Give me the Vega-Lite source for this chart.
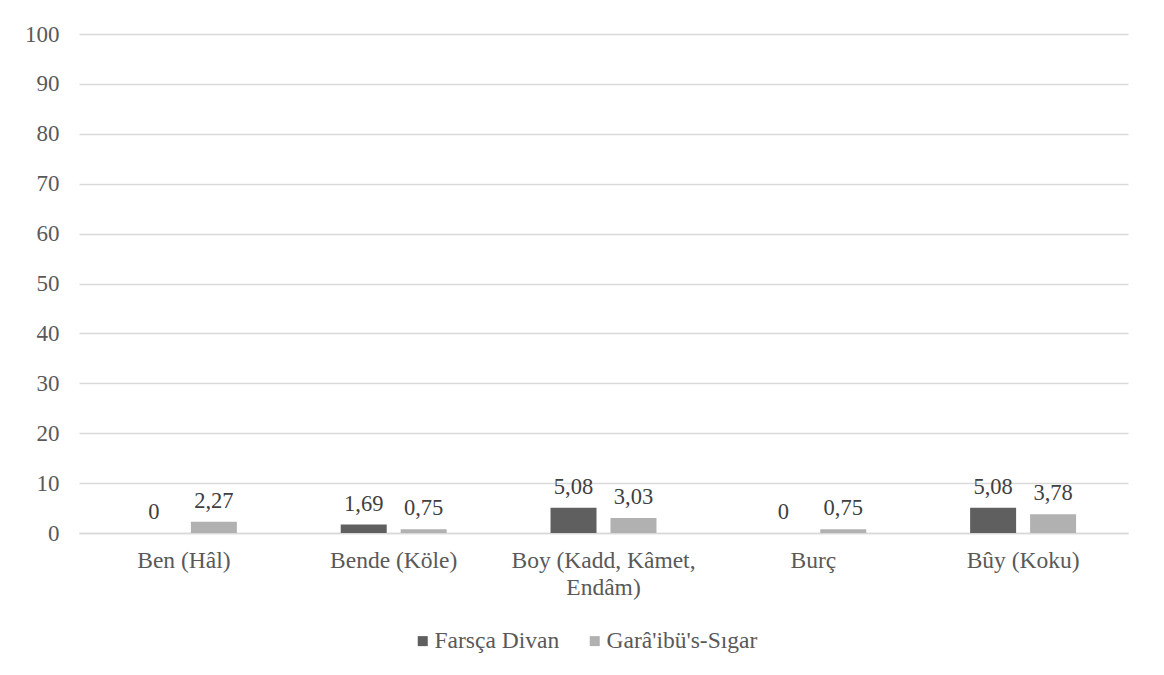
{
  "$schema": "https://vega.github.io/schema/vega-lite/v6.json",
  "autosize": {"type": "none"},
  "width": 1049,
  "height": 499,
  "padding": {"left": 79, "top": 34, "right": 36, "bottom": 142},
  "background": "white",
  "data": {
    "values": [
      {"kategori": "Ben (Hâl)", "seri": "Farsça Divan", "deger": 0},
      {"kategori": "Ben (Hâl)", "seri": "Garâ'ibü's-Sıgar", "deger": 2.27},
      {"kategori": "Bende (Köle)", "seri": "Farsça Divan", "deger": 1.69},
      {"kategori": "Bende (Köle)", "seri": "Garâ'ibü's-Sıgar", "deger": 0.75},
      {"kategori": "Boy (Kadd, Kâmet, Endâm)", "seri": "Farsça Divan", "deger": 5.08},
      {"kategori": "Boy (Kadd, Kâmet, Endâm)", "seri": "Garâ'ibü's-Sıgar", "deger": 3.03},
      {"kategori": "Burç", "seri": "Farsça Divan", "deger": 0},
      {"kategori": "Burç", "seri": "Garâ'ibü's-Sıgar", "deger": 0.75},
      {"kategori": "Bûy (Koku)", "seri": "Farsça Divan", "deger": 5.08},
      {"kategori": "Bûy (Koku)", "seri": "Garâ'ibü's-Sıgar", "deger": 3.78}
    ]
  },
  "encoding": {
    "x": {
      "field": "kategori",
      "type": "nominal",
      "sort": null,
      "scale": {"paddingInner": 0.495, "paddingOuter": 0.2475},
      "axis": {
        "title": null,
        "labelAngle": 0,
        "ticks": false,
        "domainColor": "#d9d9d9",
        "domainWidth": 1.5,
        "labelPadding": 15,
        "labelFontSize": 23.5,
        "labelLineHeight": 27,
        "labelLimit": 400,
        "labelExpr": "datum.value == 'Boy (Kadd, Kâmet, Endâm)' ? ['Boy (Kadd, Kâmet,', 'Endâm)'] : datum.value"
      }
    },
    "xOffset": {
      "field": "seri",
      "type": "nominal",
      "sort": ["Farsça Divan", "Garâ'ibü's-Sıgar"],
      "scale": {"paddingInner": 0.233, "paddingOuter": 0}
    },
    "y": {
      "field": "deger",
      "type": "quantitative",
      "scale": {"domain": [0, 100]},
      "axis": {
        "title": null,
        "values": [0, 10, 20, 30, 40, 50, 60, 70, 80, 90, 100],
        "ticks": false,
        "domain": false,
        "gridColor": "#d9d9d9",
        "gridWidth": 1.5,
        "labelPadding": 20
      }
    }
  },
  "layer": [
    {
      "mark": {"type": "bar"},
      "encoding": {
        "color": {
          "field": "seri",
          "type": "nominal",
          "sort": ["Farsça Divan", "Garâ'ibü's-Sıgar"],
          "scale": {"domain": ["Farsça Divan", "Garâ'ibü's-Sıgar"], "range": ["#5f5f5f", "#b1b1b1"]},
          "legend": {
            "title": null,
            "orient": "none",
            "legendX": 332,
            "legendY": 595,
            "direction": "horizontal",
            "padding": 0,
            "symbolType": "square",
            "symbolSize": 100,
            "symbolStrokeWidth": 0,
            "labelOffset": 0,
            "columnPadding": 23,
            "labelFontSize": 23.5
          }
        }
      }
    },
    {
      "mark": {"type": "text", "baseline": "alphabetic", "dy": -14, "fontSize": 22.5, "font": "'Liberation Serif', serif", "color": "#404040"},
      "encoding": {
        "text": {"field": "deger", "type": "quantitative", "format": ".3~g"}
      }
    }
  ],
  "config": {
    "locale": {"number": {"decimal": ",", "thousands": ".", "grouping": [3], "currency": ["", ""]}},
    "view": {"stroke": null},
    "font": "'Liberation Serif', serif",
    "text": {"font": "'Liberation Serif', serif"},
    "axis": {"labelFont": "'Liberation Serif', serif", "labelFontSize": 23, "labelColor": "#595959"},
    "legend": {"labelFont": "'Liberation Serif', serif", "labelFontSize": 23, "labelColor": "#595959"}
  }
}
